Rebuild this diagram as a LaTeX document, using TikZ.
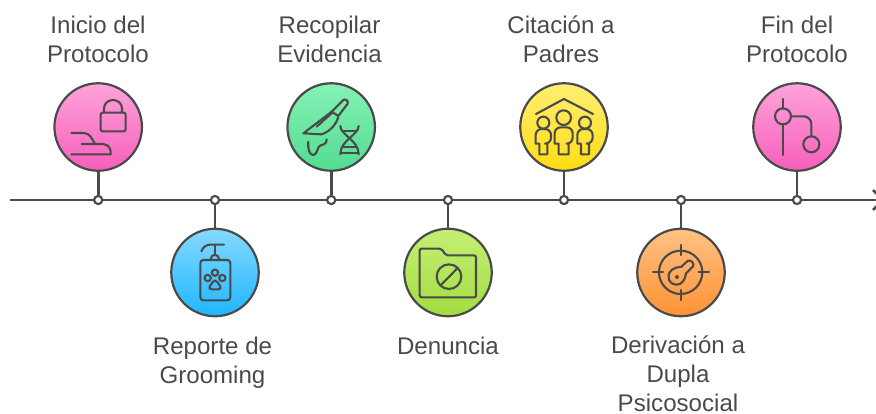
\documentclass[tikz,border=0pt]{standalone}
\usepackage{fontspec}
\setmainfont{Liberation Sans}
\usetikzlibrary{calc}
\definecolor{ink}{HTML}{4A4A4A}
\definecolor{lbl}{HTML}{4A4A4A}
\tikzset{
  disc/.style 2 args={circle,draw=ink,line width=2.2pt,minimum size=87.5pt,inner sep=0pt,top color=#1,bottom color=#2,shading angle=0},
  dot/.style={circle,draw=ink,line width=2pt,fill=white,minimum size=8pt,inner sep=0pt},
  axisline/.style={draw=ink,line width=2.6pt},
  stem/.style={draw=ink,line width=2.6pt},
  ico/.style={draw=ink,line width=2.1pt,line cap=round,line join=round},
  lab/.style={text=lbl,font=\fontsize{24.1pt}{29pt}\selectfont,align=center,inner sep=0pt,text depth=0pt}
}
\begin{document}
\begin{tikzpicture}[x=1pt,y=-1pt]
\useasboundingbox (0,0) rectangle (876,413);
\coordinate (axA) at (10,200);
\coordinate (axB) at (880,200);
\path[axisline] (axA) -- (axB);
\draw[ink,line width=2.6pt] (873,190) -- (883,200) -- (873,210);
\foreach \n/\x/\y/\a/\b in {
 a/98.2/127/FFA3DA/F65FBB,
 b/215/272.5/85D9FF/1EB7FF,
 c/331.2/127/85F2B5/52DC92,
 d/448/272.5/C5EF74/A2DD41,
 e/564/127/FFEE73/FFDD12,
 f/681/272.5/FFC285/FF9233,
 g/797/127/FFA3DA/F65FBB}{
  \definecolor{ca}{HTML}{\a}\definecolor{cb}{HTML}{\b}
  \node[dot] (d\n) at (\x,200) {};
  \node[disc={ca}{cb}] (c\n) at (\x,\y) {};
  \path[stem] (c\n) -- (d\n);
  \node[dot] at (\x,200) {};
}
% labels
\node[lab] (la) at (98,39.5) {Inicio del\\Protocolo};
\node[lab] (lb) at (212.5,360.5) {Reporte de\\Grooming};
\node[lab] (lc) at (329.5,39.5) {Recopilar\\Evidencia};
\node[lab] (ld) at (448,345.5) {Denuncia};
\node[lab] (le) at (561,39.5) {Citación a\\Padres};
\node[lab] (lf) at (678,374) {Derivación a\\Dupla\\Psicosocial};
\node[lab] (lg) at (797,39.5) {Fin del\\Protocolo};
% icon a
\begin{scope}[shift={(40,70)},x=0.3333pt,y=-0.3333pt]
 \draw[ico,rounded corners=2pt] (182,128) rectangle (257,184);
 \draw[ico] (192,128) -- (192,115) arc[start angle=180,end angle=360,x radius=27,y radius=25] -- (246,128);
 \draw[ico] (94,189) -- (130,189) .. controls (150,189) and (155,205) .. (165,222);
 \draw[ico] (125,222) -- (190,222) .. controls (208,224) and (214,240) .. (212,253) -- (94,253);
\end{scope}
% icon b
\begin{scope}[shift={(160,190)},x=0.3333pt,y=-0.3333pt]
 \draw[ico,rounded corners=3pt] (121,210) rectangle (211,331);
 \draw[ico] (124,184) .. controls (130,170) and (140,164) .. (150,164) -- (192,164);
 \draw[ico] (164,164) -- (164,190);
 \draw[ico] (152,208) .. controls (152,190) and (176,190) .. (178,208);
 \draw[ico] (165,248) circle[radius=9.5];
 \draw[ico] (143,264) circle[radius=9.5];
 \draw[ico] (187,264) circle[radius=9.5];
 \draw[ico,rounded corners=4pt] (165,266) -- (187,298) -- (143,298) -- cycle;
\end{scope}
% icon c
\begin{scope}[shift={(280,75)},x=0.3333pt,y=-0.3333pt]
 \draw[ico] (70,175) -- (155,110) -- (175,123) .. controls (172,145) and (150,170) .. (125,178) -- (70,175) -- cycle;
 \draw[ico] (155,110) -- (190,75) .. controls (197,70) and (206,78) .. (203,86) -- (175,123);
 \draw[ico] (110,155) -- (157,113);
 \draw[ico] (85,200) .. controls (83,222) and (88,240) .. (100,240) .. controls (113,240) and (110,215) .. (122,211) .. controls (134,208) and (140,205) .. (140,193);
 \draw[ico] (181,153) .. controls (181,180) and (236,195) .. (236,238);
 \draw[ico] (236,153) .. controls (236,180) and (181,195) .. (181,238);
 \draw[ico] (188,167) -- (230,167);
 \draw[ico] (190,215) -- (228,215);
 \draw[ico] (182,234) -- (236,234);
\end{scope}
% icon d
\begin{scope}[shift={(395,220)},x=0.3333pt,y=-0.3333pt]
 \draw[ico,rounded corners=2pt] (74,232) -- (74,86) -- (140,86) -- (152,106) -- (243,106) -- (243,232) -- cycle;
 \draw[ico] (162,170) circle[radius=37];
 \draw[ico] (137,196) -- (188,144);
\end{scope}
% icon e
\begin{scope}[shift={(510,75)},x=0.3333pt,y=-0.3333pt]
 \draw[ico] (78,117) -- (162,72) -- (249,117);
 \draw[ico] (100,143) circle[radius=18];
 \draw[ico] (161,128) circle[radius=22];
 \draw[ico] (225,143) circle[radius=18];
 \foreach \c/\w/\l/\t in {100/23/12/162,161/27/15/157,225/23/12/162}{
  \draw[ico] ({\c-\l},238) -- ({\c-\l},206) -- ({\c-\w},206) [rounded corners=6pt] -- ({\c-\w},\t) -- ({\c+\w},\t) -- ({\c+\w},206) [sharp corners] -- ({\c+\l},206) -- ({\c+\l},238) -- cycle;
 }
\end{scope}
% icon f
\begin{scope}[shift={(628,220)},x=0.3333pt,y=-0.3333pt]
 \draw[ico] (158,157) circle[radius=65];
 \draw[ico] (158,75) -- (158,105);
 \draw[ico] (158,210) -- (158,240);
 \draw[ico] (75,157) -- (105,157);
 \draw[ico] (212,157) -- (243,157);
 \fill[ink] (147,171) circle[radius=6];
 \draw[ico] (122,172) .. controls (120,150) and (140,142) .. (160,140) -- (180,122) .. controls (190,120) and (198,128) .. (196,138) -- (174,160) .. controls (172,180) and (160,195) .. (145,194) .. controls (132,193) and (122,185) .. (122,172) -- cycle;
\end{scope}
% icon g
\begin{scope}[shift={(740,75)},x=0.3333pt,y=-0.3333pt]
 \draw[ico] (130,72) -- (130,100);
 \draw[ico] (130,148) -- (130,240);
 \draw[ico] (129,124) circle[radius=24];
 \draw[ico] (153,124) -- (190,124) .. controls (205,124) and (214,135) .. (214,148) -- (214,184);
 \draw[ico] (214,208) circle[radius=24];
\end{scope}
\end{tikzpicture}
\end{document}
